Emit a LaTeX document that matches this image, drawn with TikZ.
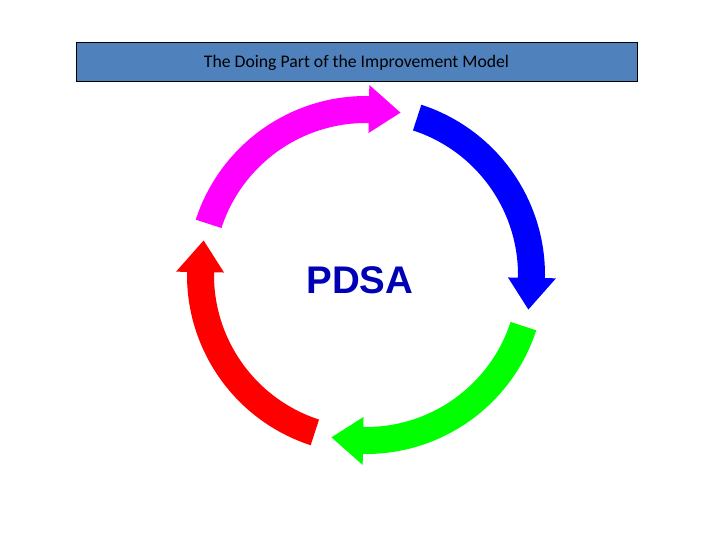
\documentclass[tikz,border=0pt]{standalone}
\usepackage{fontspec}
\setmainfont{Carlito}
\newfontfamily\pdsafont{Liberation Sans}
\usetikzlibrary{positioning}

\definecolor{titleblue}{RGB}{79,129,189}
\definecolor{pdsablue}{RGB}{0,0,180}
\definecolor{plancol}{RGB}{255,0,255}
\definecolor{docol}{RGB}{0,0,255}
\definecolor{studycol}{RGB}{0,255,0}
\definecolor{actcol}{RGB}{255,0,0}

\begin{document}
\begin{tikzpicture}[x=1pt, y=1pt]
        \useasboundingbox (0,0) rectangle (720,540);

        % Title bar
        \node[draw=black, line width=1pt, fill=titleblue, minimum width=561pt, minimum height=39pt,
              font=\fontsize{17.7}{20}\selectfont] (title) at (356.5,477.5)
              {The Doing Part of the Improvement Model};

        % Cycle arrows, each turned 90 degrees clockwise
        \coordinate (ring) at (366,265);
        \foreach \col/\turn in {plancol/0, docol/-90, studycol/-180, actcol/-270} {
            \begin{scope}[shift={(ring)}, rotate=\turn]
                \fill[\col] (162:152) arc[start angle=162, end angle=89, radius=152]
                    -- (89:142) -- (78:166) -- (89:190) -- (89:179)
                    arc[start angle=89, end angle=162, radius=179] -- cycle;
            \end{scope}
        }

        % Centre label
        \node[anchor=base, text=pdsablue, font=\pdsafont\bfseries\fontsize{38.5}{42}\selectfont]
              (pdsa) at (360,246) {PDSA};

    \end{tikzpicture}
\end{document}
